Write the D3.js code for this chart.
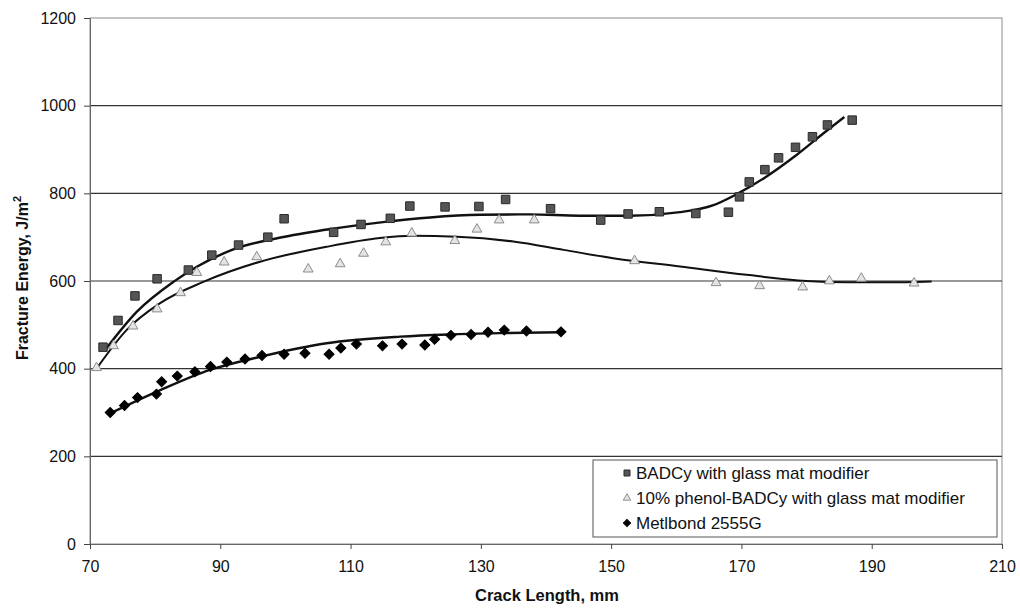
<!DOCTYPE html>
<html>
<head>
<meta charset="utf-8">
<script src="https://cdn.jsdelivr.net/npm/d3@7"></script>
<style>
    body { margin: 0; background: #fff; }
    text { font-family: "Liberation Sans", Arial, sans-serif; fill: #111; }
</style>
</head>
<body>
<div id="chartContainer"></div>
<script>
'use strict';

// Measured points, crack length (mm) vs fracture energy (J/m^2)
const badcyX = [72.0, 74.3, 76.9, 80.3, 85.1, 88.7, 92.8, 97.3, 99.8, 107.4, 111.6, 116.1, 119.1, 124.5, 129.7, 133.8, 140.7, 148.4, 152.6, 157.4, 163.0, 168.0, 169.7, 171.2, 173.6, 175.7, 178.3, 180.9, 183.2, 187.0];
const badcyY = [449, 510, 566, 605, 625, 659, 682, 700, 742, 711, 729, 743, 771, 769, 770, 786, 765, 739, 753, 758, 754, 757, 792, 826, 854, 881, 905, 929, 956, 967];

const phenolX = [71.0, 73.6, 76.6, 80.3, 83.9, 86.4, 90.6, 95.6, 103.5, 108.4, 112.0, 115.4, 119.4, 126.0, 129.4, 132.8, 138.2, 153.6, 166.1, 172.8, 179.4, 183.5, 188.4, 196.5];
const phenolY = [402, 452, 497, 536, 573, 619, 643, 655, 627, 639, 663, 689, 709, 692, 718, 739, 739, 646, 596, 589, 586, 600, 606, 595];

const metX = [73.1, 75.3, 77.3, 80.2, 81.0, 83.4, 86.1, 88.5, 91.0, 93.8, 96.4, 99.8, 103.0, 106.7, 108.5, 110.9, 114.9, 117.9, 121.4, 122.9, 125.4, 128.5, 131.1, 133.6, 137.0, 142.3];
const metY = [300, 316, 334, 342, 370, 383, 393, 405, 415, 422, 430, 433, 435, 433, 447, 456, 452, 456, 454, 467, 476, 478, 483, 488, 486, 484];

// Trend lines
const badcyFitX = [72.5, 77.2, 82.8, 91.8, 99.9, 107.6, 115.3, 122.2, 129.9, 137.5, 145.2, 152.9, 160.6, 165.7, 169.0, 173.4, 178.5, 182.6, 185.8];
const badcyFitY = [446, 530, 598, 671, 701, 720, 735, 745, 751, 752, 749, 749, 757, 773, 796, 834, 888, 937, 974];

const phenolFitX = [71.0, 75.6, 80.7, 87.4, 96.1, 106.3, 114.5, 119.6, 126.3, 135.0, 142.7, 150.3, 160.6, 170.8, 180.0, 186.2, 192.0, 199.2];
const phenolFitY = [400, 488, 549, 598, 644, 678, 698, 703, 701, 690, 671, 652, 633, 614, 600, 597, 597, 599];

const metFitX = [73.1, 80.8, 88.4, 96.1, 106.3, 117.6, 125.0, 132.9, 142.3];
const metFitY = [298, 351, 397, 427, 458, 473, 478, 481, 483];

const xTicks = [70, 90, 110, 130, 150, 170, 190, 210];
const yTicks = [0, 200, 400, 600, 800, 1000, 1200];

const seriesNames = ["BADCy with glass mat modifier", "10% phenol-BADCy with glass mat modifier", "Metlbond 2555G"];

const W = 1020, H = 610;
const plot = { left: 90, right: 1002, top: 18, bottom: 544 };

const zip = (xs, ys) => xs.map((x, i) => ({ x: x, y: ys[i] }));

const svg = d3.select("#chartContainer")
    .append("svg")
    .attr("width", W)
    .attr("height", H);

const x = d3.scaleLinear().domain([70, 210]).range([plot.left, plot.right]);
const y = d3.scaleLinear().domain([0, 1200]).range([plot.bottom, plot.top]);

// plot frame (scanned grey border)
svg.append("rect")
    .attr("x", plot.left).attr("y", plot.top)
    .attr("width", plot.right - plot.left).attr("height", plot.bottom - plot.top)
    .attr("fill", "none")
    .attr("stroke", "#8a8a8a")
    .attr("stroke-width", 1);

// horizontal gridlines
svg.append("g")
    .selectAll("line")
    .data(yTicks.filter(d => d > 0 && d < 1200))
    .enter()
    .append("line")
    .attr("x1", plot.left).attr("x2", plot.right)
    .attr("y1", d => y(d)).attr("y2", d => y(d))
    .attr("stroke", "#333")
    .attr("stroke-width", 1.2);

// x axis
const xAxis = svg.append("g")
    .attr("transform", "translate(0," + plot.bottom + ")")
    .call(d3.axisBottom(x).tickValues(xTicks).tickSize(5).tickPadding(12));
xAxis.select(".domain").attr("stroke", "#666");
xAxis.selectAll(".tick line").attr("stroke", "#444");
xAxis.selectAll("text").style("font-size", "16px").attr("fill", "#111");

// y axis
const yAxis = svg.append("g")
    .attr("transform", "translate(" + plot.left + ",0)")
    .call(d3.axisLeft(y).tickValues(yTicks).tickFormat(d3.format("d")).tickSize(6).tickPadding(8));
yAxis.select(".domain").attr("stroke", "#666");
yAxis.selectAll(".tick line").attr("stroke", "#444");
yAxis.selectAll("text").style("font-size", "16px").attr("fill", "#111");

// axis titles
svg.append("text")
    .attr("x", 547)
    .attr("y", 601)
    .style("text-anchor", "middle")
    .style("font-size", "16.5px")
    .style("font-weight", "bold")
    .text("Crack Length, mm");

const yTitle = svg.append("text")
    .attr("transform", "translate(28," + 278 + ") rotate(-90)")
    .style("text-anchor", "middle")
    .style("font-size", "16px")
    .style("font-weight", "bold");
yTitle.append("tspan").text("Fracture Energy, J/m");
yTitle.append("tspan").attr("dy", -7).style("font-size", "11px").text("2");

// trend lines
const line = d3.line()
    .x(d => x(d.x))
    .y(d => y(d.y))
    .curve(d3.curveMonotoneX);

const fits = [
    { data: zip(badcyFitX, badcyFitY), width: 2.4 },
    { data: zip(phenolFitX, phenolFitY), width: 2 },
    { data: zip(metFitX, metFitY), width: 2.4 }
];

svg.append("g")
    .selectAll("path")
    .data(fits)
    .enter()
    .append("path")
    .attr("d", d => line(d.data))
    .attr("fill", "none")
    .attr("stroke", "#111")
    .attr("stroke-width", d => d.width);

// marker symbols; the diamond is a square turned 45 degrees
const squareSym = d3.symbol().type(d3.symbolSquare).size(72);
const triSym = d3.symbol().type(d3.symbolTriangle).size(42);
const diaSym = d3.symbol().type(d3.symbolSquare).size(50);

const drawMarkers = (data, sym, fill, stroke, cls, rot) => {
    svg.append("g")
        .selectAll("." + cls)
        .data(data)
        .enter()
        .append("path")
        .attr("class", cls)
        .attr("d", sym)
        .attr("transform", d => "translate(" + x(d.x) + "," + y(d.y) + ") rotate(" + rot + ")")
        .attr("fill", fill)
        .attr("stroke", stroke)
        .attr("stroke-width", 1);
};

drawMarkers(zip(badcyX, badcyY), squareSym, "#555", "#2a2a2a", "sq", 0);
drawMarkers(zip(phenolX, phenolY), triSym, "#e4e4e4", "#8c8c8c", "tri", 0);
drawMarkers(zip(metX, metY), diaSym, "#000", "#000", "dia", 45);

// legend
const legend = svg.append("g");
legend.append("rect")
    .attr("x", 593).attr("y", 460)
    .attr("width", 404).attr("height", 77)
    .attr("fill", "#fff")
    .attr("stroke", "#555")
    .attr("stroke-width", 1);

const legendSyms = [
    { sym: d3.symbol().type(d3.symbolSquare).size(36), fill: "#555", stroke: "#2a2a2a", rot: 0 },
    { sym: d3.symbol().type(d3.symbolTriangle).size(24), fill: "#e4e4e4", stroke: "#8c8c8c", rot: 0 },
    { sym: d3.symbol().type(d3.symbolSquare).size(26), fill: "#000", stroke: "#000", rot: 45 }
];

seriesNames.forEach((name, i) => {
    const rowY = 473 + i * 25;
    legend.append("path")
        .attr("d", legendSyms[i].sym)
        .attr("transform", "translate(627," + rowY + ") rotate(" + legendSyms[i].rot + ")")
        .attr("fill", legendSyms[i].fill)
        .attr("stroke", legendSyms[i].stroke);
    legend.append("text")
        .attr("x", 636)
        .attr("y", rowY + 6)
        .style("font-size", "17px")
        .text(name);
});
</script>
</body>
</html>
